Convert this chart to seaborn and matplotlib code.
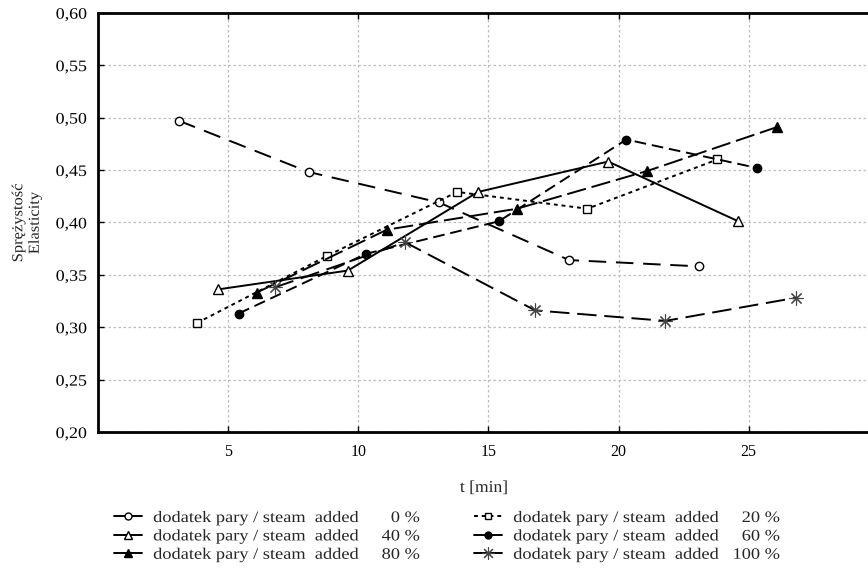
import numpy as np
import pandas as pd
import seaborn as sns
import matplotlib
matplotlib.use("Agg")
import matplotlib.pyplot as plt
from matplotlib.lines import Line2D
from matplotlib.ticker import FuncFormatter
from matplotlib.patheffects import AbstractPathEffect
from matplotlib.transforms import Affine2D

# Steam addition levels (%) and measured elasticity over time
steam_levels = ["0", "20", "40", "60", "80", "100"]

t_0 = [3.1, 8.1, 13.1, 18.1, 23.1]
e_0 = [0.497, 0.448, 0.419, 0.364, 0.358]

t_20 = [3.8, 8.8, 13.8, 18.8, 23.8]
e_20 = [0.304, 0.368, 0.429, 0.413, 0.460]

t_40 = [4.6, 9.6, 14.6, 19.6, 24.6]
e_40 = [0.336, 0.354, 0.429, 0.458, 0.401]

t_60 = [5.4, 10.3, 15.4, 20.3, 25.3]
e_60 = [0.313, 0.370, 0.401, 0.479, 0.452]

t_80 = [6.1, 11.1, 16.1, 21.1, 26.1]
e_80 = [0.333, 0.393, 0.413, 0.449, 0.491]

t_100 = [6.8, 11.8, 16.8, 21.8, 26.8]
e_100 = [0.338, 0.381, 0.316, 0.306, 0.328]

x_ticks = [5, 10, 15, 20, 25]
y_ticks = [0.20, 0.25, 0.30, 0.35, 0.40, 0.45, 0.50, 0.55, 0.60]

series = {
    "0": (t_0, e_0),
    "20": (t_20, e_20),
    "40": (t_40, e_40),
    "60": (t_60, e_60),
    "80": (t_80, e_80),
    "100": (t_100, e_100),
}

# line / marker styling per series (ls: plot line, lls: legend key line)
styles = {
    "0":   dict(marker="o", mfc="white", mec="black", ms=6, mew=1.0,
                ls=(0, (9, 5)), lls="-"),
    "20":  dict(marker="s", mfc="white", mec="black", ms=6, mew=1.0,
                ls=(0, (2, 2)), lls=(0, (2, 2))),
    "40":  dict(marker="^", mfc="white", mec="black", ms=7, mew=1.0,
                ls="-", lls="-"),
    "60":  dict(marker="o", mfc="black", mec="black", ms=6, mew=1.0,
                ls=(0, (6, 3)), lls="-"),
    "80":  dict(marker="^", mfc="black", mec="black", ms=7, mew=1.0,
                ls=(0, (10, 3)), lls="-"),
    "100": dict(marker=(8, 2, 0), mfc="#444444", mec="#444444", ms=10, mew=0.8,
                ls=(0, (10, 4)), lls="-"),
}


class HStretch(AbstractPathEffect):
    """Widen text glyphs horizontally about a chosen anchor."""

    def __init__(self, sx, anchor="left"):
        super().__init__()
        self.sx = sx
        self.anchor = anchor

    def draw_path(self, renderer, gc, tpath, affine, rgbFace=None):
        ext = tpath.get_extents()
        if self.anchor == "right":
            x0 = ext.x1
        elif self.anchor == "center":
            x0 = 0.5 * (ext.x0 + ext.x1)
        else:
            x0 = 0.0
        t = Affine2D().translate(-x0, 0).scale(self.sx, 1).translate(x0, 0)
        renderer.draw_path(gc, tpath, t + affine, rgbFace)


sns.set_theme(style="white")
plt.rcParams["font.family"] = ["Liberation Serif", "DejaVu Serif"]

fig = plt.figure(figsize=(8.68, 5.75), dpi=100)
ax = fig.add_axes([98 / 868, 1 - 432 / 575, 1 - 98 / 868 + 0.002, (432 - 12.7) / 575])

for key in steam_levels:
    t, e = series[key]
    st = styles[key]
    sns.lineplot(x=t, y=e, ax=ax, color="black", linewidth=1.4,
                 linestyle=st["ls"], marker=st["marker"],
                 markersize=st["ms"], markerfacecolor=st["mfc"],
                 markeredgecolor=st["mec"], markeredgewidth=st["mew"],
                 zorder=3)

ax.set_xlim(0, 29.65)
ax.set_ylim(0.20, 0.60)
ax.set_xticks(x_ticks)
ax.set_yticks(y_ticks)
ax.yaxis.set_major_formatter(FuncFormatter(lambda v, p: f"{v:.2f}".replace(".", ",")))
ax.grid(True, color="#bdbdbd", linestyle=(0, (2, 2)), linewidth=0.9)
ax.tick_params(direction="in", length=4, width=1, colors="black",
               labelsize=11.5, top=True, left=True, bottom=True, right=False)
ax.tick_params(axis="x", pad=9)
ax.tick_params(axis="y", pad=8)
for side in ["left", "bottom", "top"]:
    ax.spines[side].set_linewidth(2)
    ax.spines[side].set_color("black")
ax.spines["right"].set_visible(False)
for lbl in ax.get_yticklabels():
    lbl.set_path_effects([HStretch(1.12, "right")])

ax.set_xlabel("t [min]", fontsize=12, labelpad=14)
ax.xaxis.label.set_path_effects([HStretch(1.05, "center")])
ax.set_ylabel("")
ylab = fig.text(27 / 868, 1 - 223 / 575, "Sprężystość\nElasticity", rotation=90,
                ha="center", va="center", fontsize=11, linespacing=1.35)
ylab.set_path_effects([HStretch(1.08, "center")])

# legend laid out in two columns, row-wise: 0/20, 40/60, 80/100
pct_txt = {"0": "    0 %", "20": "  20 %", "40": "  40 %",
           "60": "  60 %", "80": "  80 %", "100": "100 %"}
handles, labels = [], []
for key in ["0", "40", "80", "20", "60", "100"]:
    st = styles[key]
    handles.append(Line2D([], [], color="black", linewidth=1.4, linestyle=st["lls"],
                          marker=st["marker"], markersize=st["ms"] - 1,
                          markerfacecolor=st["mfc"], markeredgecolor=st["mec"],
                          markeredgewidth=st["mew"]))
    labels.append(f"dodatek pary / steam  added   {pct_txt[key]}")

leg = fig.legend(handles, labels, ncol=2, frameon=False, fontsize=11.5,
                 loc="upper left", bbox_to_anchor=(114 / 868, 1 - 510 / 575),
                 handlelength=1.75, handletextpad=0.7, columnspacing=5.6,
                 labelspacing=0.15, borderaxespad=0, borderpad=0)
for txt in leg.get_texts():
    txt.set_path_effects([HStretch(1.15, "left")])

fig.savefig("out.png", dpi=100)
